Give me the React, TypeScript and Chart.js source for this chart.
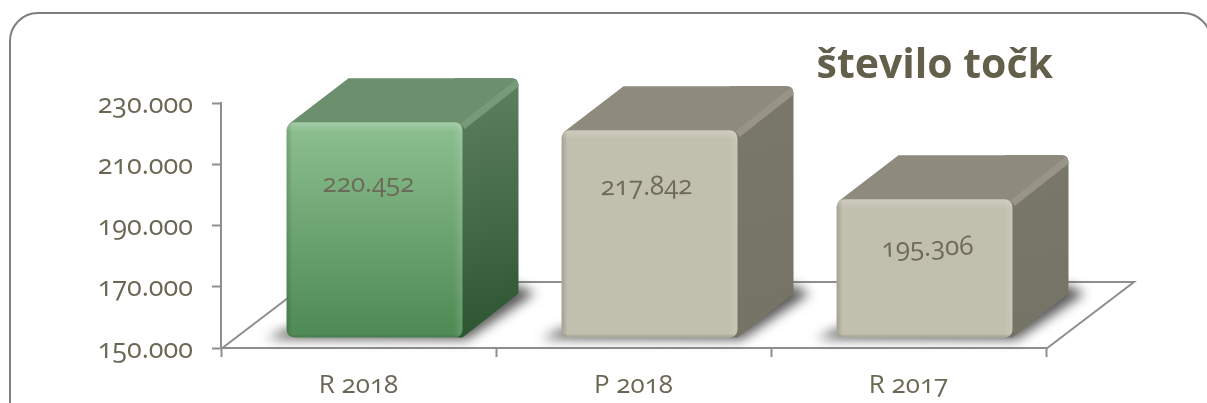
import React, { useEffect, useRef } from "react";
import { Chart, registerables } from "chart.js";

Chart.register(...registerables);

const categories = ["R 2018", "P 2018", "R 2017"];
const points = [220452, 217842, 195306];
const axisTicks = [150000, 170000, 190000, 210000, 230000];
const chartTitle = "število točk";

const FONT = '"Open Sans", "Noto Sans", sans-serif';
const TEXT = "#6a6754";
const AXIS = "#8e8e8e";
const W = 1207;
const H = 403;
// Offset of the bar's front face from the axis plane, bar depth, floor depth
const FRONT = { x: 16, y: -10 };
const DEPTH = { x: 56, y: -44 };
const FLOOR = { x: 88, y: -66 };
// Where each value label sits relative to its front face centre / top
const labelPlace = [
  { dx: -6, dy: 62, rot: 0 },
  { dx: -3, dy: 57, rot: -0.012 },
  { dx: 3, dy: 49, rot: -0.03 },
];
const fmt = (v: number) => String(v).replace(/\B(?=(\d{3})+$)/g, ".");

const palette = [
  { top: "#6c8f6e", rim: "#779a79", sideA: "#5f8262", sideB: "#2c5430" },
  { top: "#8e8b7e", rim: "#989586", sideA: "#797869", sideB: "#747365" },
  { top: "#8e8b7e", rim: "#989586", sideA: "#797869", sideB: "#747365" },
];

const faces = {
  id: "faces",
  beforeDraw(chart: any) {
    const c = chart.ctx;
    const { left, right, bottom } = chart.chartArea;
    c.save();
    // outer frame
    c.strokeStyle = "#7f7f7f";
    c.lineWidth = 2;
    c.beginPath();
    c.roundRect(10, 13, W + 4 - 10, H + 40, 28);
    c.stroke();
    // floor
    c.strokeStyle = AXIS;
    c.lineWidth = 2;
    c.beginPath();
    c.moveTo(left, bottom + 1);
    c.lineTo(left + FLOOR.x, bottom + FLOOR.y);
    c.lineTo(right + FLOOR.x, bottom + FLOOR.y);
    c.lineTo(right, bottom + 1);
    c.stroke();
    // title
    c.fillStyle = "#625f4a";
    c.font = `bold 41px ${FONT}`;
    c.textAlign = "right";
    c.textBaseline = "alphabetic";
    c.fillText(chartTitle, 1053, 78);
    c.restore();
  },
  beforeDatasetDraw(chart: any) {
    const c = chart.ctx;
    const meta = chart.getDatasetMeta(0);
    meta.data.forEach((el: any, i: number) => {
      const xl = el.x - el.width / 2 + FRONT.x;
      const xr = el.x + el.width / 2 + FRONT.x;
      const top = el.y + FRONT.y;
      const bot = el.base + FRONT.y;
      const p = palette[i];
      // floor shadow
      c.save();
      c.filter = "blur(6px)";
      c.fillStyle = "rgba(70,70,70,0.9)";
      c.beginPath();
      c.moveTo(xl - 20, bot + 1);
      c.lineTo(xr + 4, bot + 2);
      c.lineTo(xr + DEPTH.x + 16, bot + DEPTH.y);
      c.lineTo(xr + DEPTH.x, bot + DEPTH.y - 8);
      c.lineTo(xl, bot - 8);
      c.closePath();
      c.fill();
      c.restore();
      // the whole top + side silhouette keeps the rim inside
      const cx = xr + DEPTH.x;
      const cy = top + DEPTH.y;
      c.save();
      c.beginPath();
      c.moveTo(xl + 2, top + 2);
      c.lineTo(xl + DEPTH.x + 6, cy);
      c.lineTo(cx - 7, cy);
      c.quadraticCurveTo(cx, cy, cx, cy + 7);
      c.lineTo(cx, bot + DEPTH.y);
      c.lineTo(xr, bot);
      c.lineTo(xr - 6, bot);
      c.lineTo(xr - 6, top + 2);
      c.closePath();
      c.clip();
      // side face
      const g = c.createLinearGradient(xr, cy, cx, bot);
      g.addColorStop(0, p.sideA);
      g.addColorStop(1, p.sideB);
      c.fillStyle = g;
      c.fillRect(xr - 8, cy - 2, DEPTH.x + 10, bot - cy + 4);
      // top face
      c.fillStyle = p.top;
      c.beginPath();
      c.moveTo(xl, top + 3);
      c.lineTo(xl + DEPTH.x + 4, cy - 1);
      c.lineTo(cx + 2, cy - 1);
      c.lineTo(xr + 2, top + 3);
      c.closePath();
      c.fill();
      // rim between top and side faces
      c.strokeStyle = p.rim;
      c.lineWidth = 7;
      c.beginPath();
      c.moveTo(xr, top + 4);
      c.lineTo(cx, cy + 4);
      c.stroke();
      c.restore();
    });
    c.save();
    c.translate(FRONT.x, FRONT.y);
  },
  afterDatasetDraw(chart: any) {
    chart.ctx.restore();
    const c = chart.ctx;
    const meta = chart.getDatasetMeta(0);
    meta.data.forEach((el: any, i: number) => {
      const xl = el.x - el.width / 2 + FRONT.x;
      const xr = el.x + el.width / 2 + FRONT.x;
      const top = el.y + FRONT.y;
      const bot = el.base + FRONT.y;
      const w = xr - xl;
      const h = bot - top;
      c.save();
      c.beginPath();
      c.roundRect(xl, top, w, h, 8);
      c.clip();
      const strip = (x0: number, y0: number, x1: number, y1: number, rx: number, ry: number, rw: number, rh: number, col: string, clear: string) => {
        const g = c.createLinearGradient(x0, y0, x1, y1);
        g.addColorStop(0, col);
        g.addColorStop(1, clear);
        c.fillStyle = g;
        c.fillRect(rx, ry, rw, rh);
      };
      strip(xl, 0, xl + 6, 0, xl, top, 6, h, "rgba(40,50,40,0.22)", "rgba(40,50,40,0)");
      strip(xr, 0, xr - 9, 0, xr - 9, top, 9, h, "rgba(255,255,255,0.13)", "rgba(255,255,255,0)");
      strip(0, top, 0, top + 10, xl, top, w, 10, "rgba(255,255,255,0.2)", "rgba(255,255,255,0)");
      strip(0, bot, 0, bot - 4, xl, bot - 4, w, 4, "rgba(40,50,40,0.2)", "rgba(40,50,40,0)");
      c.restore();
      // value label
      const pl = labelPlace[i];
      c.save();
      c.translate((xl + xr) / 2 + pl.dx, top + pl.dy);
      c.rotate(pl.rot);
      c.fillStyle = "#6e6a59";
      c.font = `26px ${FONT}`;
      c.textAlign = "center";
      c.textBaseline = "middle";
      c.fillText(fmt(points[i]), 0, 0);
      c.restore();
    });
  },
};

export default function App() {
  const ref = useRef<HTMLCanvasElement>(null);
  useEffect(() => {
    const canvas = ref.current!;
    canvas.style.fontFeatureSettings = '"onum"';
    const chart = new Chart(canvas, {
      type: "bar",
      data: {
        labels: categories,
        datasets: [
          {
            data: points,
            base: axisTicks[0],
            clip: false as any,
            categoryPercentage: 1,
            barPercentage: 0.64,
            borderRadius: 8,
            borderSkipped: false,
            backgroundColor: (ctx: any) => {
              if (ctx.dataIndex !== 0) return "#c1bfae";
              const s = ctx.chart.scales.y;
              const a = ctx.chart.chartArea;
              if (!s || !a) return "#6fa672";
              const g = ctx.chart.ctx.createLinearGradient(0, s.getPixelForValue(points[0]) + FRONT.y, 0, a.bottom + FRONT.y);
              g.addColorStop(0, "#90c294");
              g.addColorStop(1, "#508c55");
              return g;
            },
          },
        ],
      },
      options: {
        responsive: false,
        animation: false,
        devicePixelRatio: 1,
        layout: { padding: { top: 103, right: 161, left: 0, bottom: 0 } },
        plugins: { legend: { display: false }, tooltip: { enabled: false }, title: { display: false } },
        scales: {
          x: {
            afterFit: (s: any) => { s.height = 55; },
            border: { color: AXIS, width: 2 },
            grid: { drawOnChartArea: false, drawTicks: true, tickLength: 9, tickColor: AXIS, tickWidth: 2 },
            ticks: { color: TEXT, font: { family: FONT, size: 26 }, padding: 13, maxRotation: 0, autoSkip: false },
          },
          y: {
            min: axisTicks[0],
            max: axisTicks[axisTicks.length - 1],
            afterFit: (s: any) => { s.width = 221; },
            afterBuildTicks: (s: any) => { s.ticks = axisTicks.map((value) => ({ value })); },
            border: { color: AXIS, width: 2 },
            grid: { drawOnChartArea: false, drawTicks: true, tickLength: 9, tickColor: AXIS, tickWidth: 2 },
            ticks: { color: TEXT, font: { family: FONT, size: 27 }, padding: 19, labelOffset: 2, callback: (v: any) => fmt(Number(v)) },
          },
        },
      },
      plugins: [faces],
    } as any);
    return () => chart.destroy();
  }, []);
  return (
    <canvas
      ref={ref}
      width={W}
      height={H}
      style={{ position: "absolute", left: 0, top: 0, width: W, height: H, display: "block" }}
    />
  );
}
